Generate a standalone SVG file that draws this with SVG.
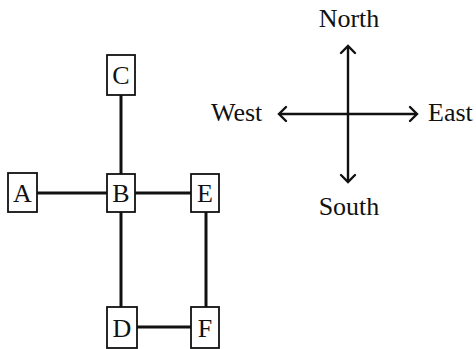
<svg xmlns="http://www.w3.org/2000/svg" width="476" height="349" viewBox="0 0 476 349">
<style>
.box{fill:#fff;stroke:#111;stroke-width:1.8}
.lbl{font-family:"Liberation Serif","DejaVu Serif",serif;font-size:26px;fill:#111;text-anchor:middle}
.dir{font-family:"Liberation Serif","DejaVu Serif",serif;font-size:26px;fill:#111}
.edge{stroke:#111;stroke-width:3;fill:none}
.comp{stroke:#111;stroke-width:2.4;fill:none}
.head{stroke:#111;stroke-width:2.4;fill:none;stroke-linecap:round;stroke-linejoin:miter}
</style>
<rect width="476" height="349" fill="#fff"/>
<g id="connectors">
<line class="edge" x1="121" y1="95" x2="121" y2="174"/>
<line class="edge" x1="37" y1="193" x2="107" y2="193"/>
<line class="edge" x1="135" y1="193" x2="191" y2="193"/>
<line class="edge" x1="121" y1="212" x2="121" y2="307"/>
<line class="edge" x1="206" y1="212" x2="206" y2="307"/>
<line class="edge" x1="137" y1="327" x2="191" y2="327"/>
</g>
<g id="node-C"><rect class="box" x="107" y="55" width="28" height="40"/><text class="lbl" x="121" y="84">C</text></g>
<g id="node-A"><rect class="box" x="8" y="173" width="29" height="39"/><text class="lbl" x="22.5" y="202">A</text></g>
<g id="node-B"><rect class="box" x="107" y="174" width="28" height="38"/><text class="lbl" x="121" y="202">B</text></g>
<g id="node-E"><rect class="box" x="191" y="174" width="28" height="38"/><text class="lbl" x="205" y="202">E</text></g>
<g id="node-D"><rect class="box" x="107" y="307" width="30" height="41"/><text class="lbl" x="122" y="337">D</text></g>
<g id="node-F"><rect class="box" x="191" y="307" width="28" height="41"/><text class="lbl" x="205" y="337">F</text></g>
<g id="compass">
<line class="comp" x1="348" y1="46" x2="348" y2="182"/>
<line class="comp" x1="279" y1="114" x2="417" y2="114"/>
<polyline class="head" points="341,53 348,46 355,53"/>
<polyline class="head" points="341,175 348,182 355,175"/>
<polyline class="head" points="286,107 279,114 286,121"/>
<polyline class="head" points="410,107 417,114 410,121"/>
<text class="dir" x="349" y="27" text-anchor="middle">North</text>
<text class="dir" x="349" y="215" text-anchor="middle">South</text>
<text class="dir" x="211" y="121">West</text>
<text class="dir" x="428" y="121">East</text>
</g>
</svg>
